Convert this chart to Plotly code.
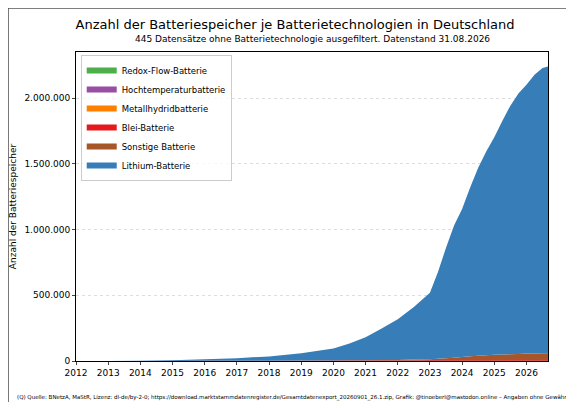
import plotly.graph_objects as go

years = [2012, 2013, 2014, 2015, 2016, 2017, 2018, 2019, 2020, 2020.5, 2021, 2021.5, 2022, 2022.5,
         2023, 2023.25, 2023.5, 2023.75, 2024, 2024.25, 2024.5, 2024.75, 2025, 2025.25, 2025.5,
         2025.75, 2026, 2026.25, 2026.5, 2026.67]
redox = [0]*30
hochtemp = [0]*30
metall = [0]*30
blei = [0, 50, 200, 500, 1000, 1500, 2000, 2500, 3000, 3300, 3600, 3900, 4200, 4500,
        4800, 5000, 5100, 5200, 5300, 5400, 5500, 5600, 5700, 5800, 5900, 6000, 6100, 6200, 6300, 6400]
sonstige = [0, 0, 0, 0, 0, 0, 0, 500, 1000, 1500, 2000, 3000, 4000, 6000,
            9000, 12000, 16000, 20000, 25000, 30000, 35000, 38000, 41000, 44000, 46000, 48000, 50000, 51000, 52000, 53000]
lithium = [0, 300, 2000, 6000, 12000, 20000, 33000, 55000, 92000, 128000, 175000, 240000, 310000, 400000,
           505000, 660000, 840000, 1005000, 1125000, 1285000, 1430000, 1550000, 1655000, 1775000, 1890000,
           1980000, 2045000, 2120000, 2170000, 2180000]

series = [("Redox-Flow-Batterie", redox, "#4daf4a"),
          ("Hochtemperaturbatterie", hochtemp, "#984ea3"),
          ("Metallhydridbatterie", metall, "#ff7f00"),
          ("Blei-Batterie", blei, "#e41a1c"),
          ("Sonstige Batterie", sonstige, "#a65628"),
          ("Lithium-Batterie", lithium, "#377eb8")]

fig = go.Figure()
for name, vals, col in series:
    fig.add_trace(go.Scatter(x=years, y=vals, name=name, stackgroup="one", mode="none",
                             fillcolor=col))

fig.update_layout(
    width=574, height=402, autosize=False, paper_bgcolor="white", plot_bgcolor="white",
    font=dict(family="DejaVu Sans", size=9, color="black"),
    separators=",.",
    margin=dict(l=68, r=34, t=44, b=49, autoexpand=False),
    title=dict(text="Anzahl der Batteriespeicher je Batterietechnologien in Deutschland",
               x=0.5, xanchor="center", y=0.97, yanchor="top", font=dict(size=13)),
    xaxis=dict(range=[2012, 2026.67], tickmode="array", tickvals=list(range(2012, 2027)),
               ticks="outside", ticklen=3, showgrid=False, showline=True, linecolor="black",
               mirror=True, zeroline=False, automargin=False),
    yaxis=dict(title=dict(text="Anzahl der Batteriespeicher", font=dict(size=9), standoff=8),
               range=[0, 2350000], tickvals=[0, 500000, 1000000, 1500000, 2000000],
               tickformat=",d", ticks="outside", ticklen=3, showgrid=True,
               gridcolor="#dddddd", griddash="dot", showline=True, linecolor="black",
               mirror=True, zeroline=False, automargin=False),
    legend=dict(x=0.01, y=0.99, xanchor="left", yanchor="top", traceorder="normal",
                bordercolor="#cccccc", borderwidth=1, bgcolor="rgba(255,255,255,0.8)",
                font=dict(size=8.5), tracegroupgap=0, itemwidth=30),
    annotations=[
        dict(text="445 Datensätze ohne Batterietechnologie ausgefiltert. Datenstand 31.08.2026",
             xref="paper", yref="paper", x=0.5, y=1.02, xanchor="center", yanchor="bottom",
             showarrow=False, font=dict(size=9)),
        dict(text="(Q) Quelle: BNetzA, MaStR, Lizenz: dl-de/by-2-0; https://download.marktstammdatenregister.de/Gesamtdatenexport_20260901_26.1.zip, Grafik: @tinoeberl@mastodon.online – Angaben ohne Gewähr.",
             xref="paper", yref="paper", x=-0.13, y=-0.1, xanchor="left", yanchor="top",
             showarrow=False, font=dict(size=5.5))],
    shapes=[dict(type="rect", xref="paper", yref="paper", x0=-0.144, x1=1.072, y0=-0.157, y1=1.142,
                 line=dict(color="#555555", width=1.5))],
)
fig.write_html("out.html")
